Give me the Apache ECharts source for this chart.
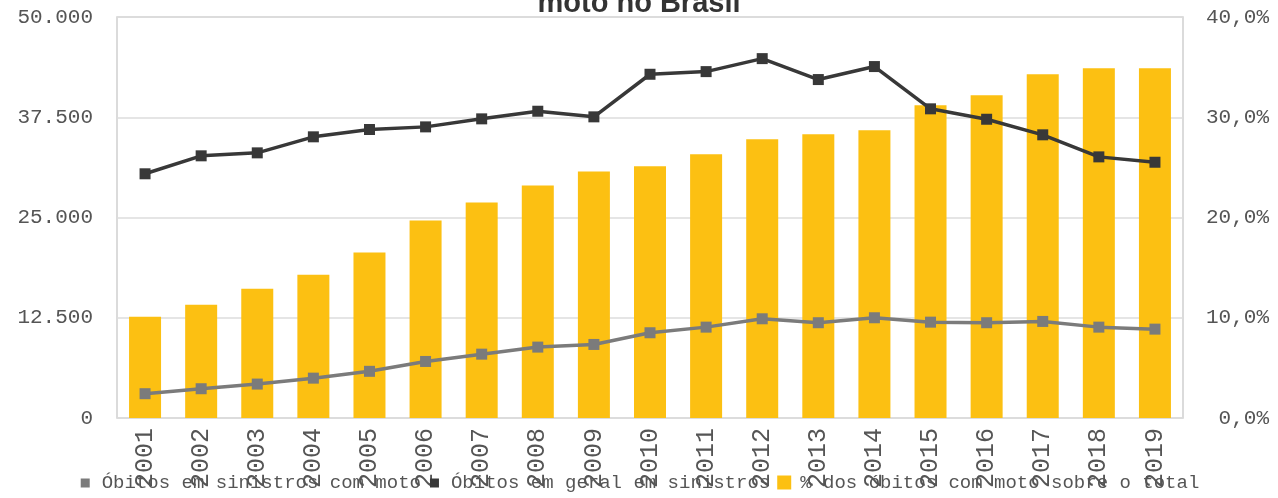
<!DOCTYPE html>
<html>
<head>
<meta charset="utf-8">
<script src="https://cdn.jsdelivr.net/npm/echarts@6/dist/echarts.min.js"></script>
<style>html,body{margin:0;padding:0;background:#fff;}#c{width:1278px;height:498px;}</style>
</head>
<body>
<div id="c"></div>
<script>
var years = ['2001','2002','2003','2004','2005','2006','2007','2008','2009','2010','2011','2012','2013','2014','2015','2016','2017','2018','2019'];
var obitosMoto = [3030,3650,4230,4970,5820,7050,7960,8840,9170,10630,11330,12370,11880,12500,11950,11880,12040,11330,11080];
var obitosGeral = [30450,32690,33060,35060,35970,36300,37300,38250,37550,42860,43190,44810,42200,43820,38550,37250,35310,32560,31890];
var pctMoto = [10.1,11.3,12.9,14.3,16.5,19.7,21.5,23.2,24.6,25.1,26.3,27.8,28.3,28.7,31.2,32.2,34.3,34.9,34.9];
var seriesNames = ['Óbitos em sinistros com moto','Óbitos em geral em sinistros','% dos óbitos com moto sobre o total'];
var titleText = 'moto no Brasil';

var mono = '"Liberation Mono", "DejaVu Sans Mono", monospace';
var chart = echarts.init(document.getElementById('c'));
function fmtThousands(v){ return v === 0 ? '0' : String(v).replace(/\B(?=(\d{3})+(?!\d))/g, '.'); }
var smallSq = 'path://M0,0M14,14M2,3h9v9h-9z';
chart.setOption({
  animation: false,
  title: {
    text: titleText, left: 'center', top: -16,
    textStyle: { fontFamily: '"Liberation Sans", Arial, sans-serif', fontWeight: 'bold', fontSize: 29, color: '#333' }
  },
  legend: {
    bottom: 1, left: 'center', itemWidth: 14, itemHeight: 14, itemGap: 7,
    textStyle: { fontFamily: mono, fontSize: 19, color: '#555', padding: [0,0,0,4] },
    data: [
      { name: seriesNames[0], icon: smallSq },
      { name: seriesNames[1], icon: smallSq },
      { name: seriesNames[2], icon: 'rect' }
    ]
  },
  grid: { left: 117, right: 95, top: 17, bottom: 80, show: true, borderColor: '#cfcfcf', borderWidth: 1.5 },
  xAxis: {
    type: 'category', data: years,
    axisLine: { show: false }, axisTick: { show: false },
    axisLabel: { rotate: 90, fontFamily: mono, fontSize: 25, color: '#555', margin: 10 }
  },
  yAxis: [
    { type: 'value', min: 0, max: 50000, interval: 12500,
      axisLine: { show: false }, axisTick: { show: false },
      splitLine: { lineStyle: { color: '#dcdcdc', width: 1.5 } },
      axisLabel: { fontFamily: mono, fontSize: 21, color: '#555', margin: 24, formatter: fmtThousands } },
    { type: 'value', min: 0, max: 40, interval: 10,
      axisLine: { show: false }, axisTick: { show: false }, splitLine: { show: false },
      axisLabel: { fontFamily: mono, fontSize: 21, color: '#555', align: 'right', margin: 86,
        formatter: function(v){ return v.toFixed(1).replace('.', ',') + '%'; } } }
  ],
  series: [
    { name: seriesNames[2], type: 'bar', yAxisIndex: 1, data: pctMoto, barWidth: 32,
      itemStyle: { color: '#FCC012' }, z: 1 },
    { name: seriesNames[0], type: 'line', yAxisIndex: 0, data: obitosMoto,
      symbol: 'rect', symbolSize: 11, lineStyle: { color: '#7b7b7b', width: 3.5 },
      itemStyle: { color: '#7b7b7b' }, z: 3 },
    { name: seriesNames[1], type: 'line', yAxisIndex: 0, data: obitosGeral,
      symbol: 'rect', symbolSize: 11, lineStyle: { color: '#383838', width: 3.5 },
      itemStyle: { color: '#383838' }, z: 4 }
  ]
});
</script>
</body>
</html>
